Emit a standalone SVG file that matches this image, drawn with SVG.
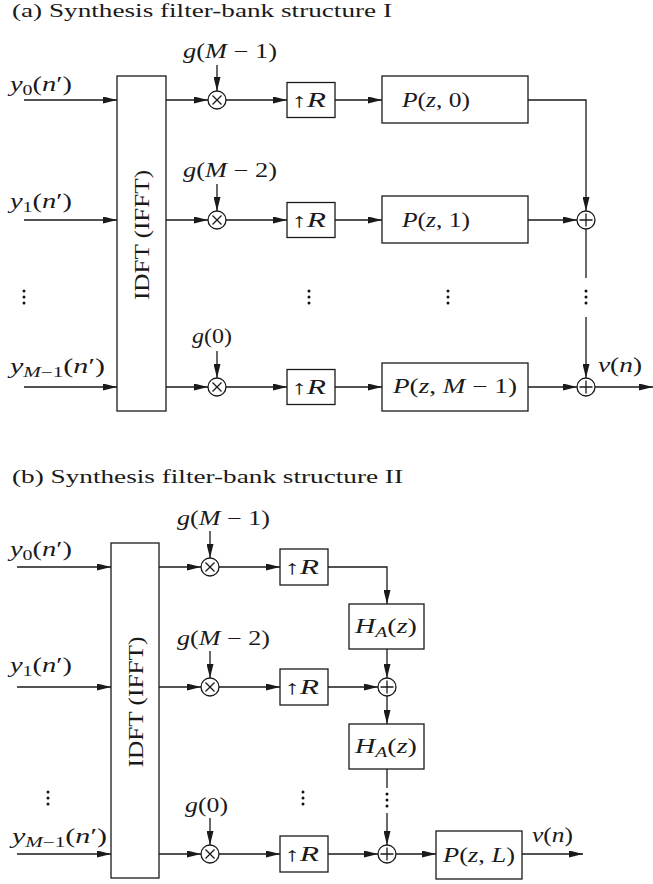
<svg xmlns="http://www.w3.org/2000/svg" width="653" height="884" viewBox="0 0 653 884">
<defs>
<marker id="ah" markerUnits="userSpaceOnUse" markerWidth="14" markerHeight="7" refX="14" refY="3.5" orient="auto">
<path d="M0,0 L14,3.5 L0,7 z" fill="#1a1a1a"/>
</marker>
</defs>
<style>
text{font-family:"Liberation Serif","Times New Roman",serif;font-size:20px;fill:#1a1a1a}
.t{font-size:19px}
.i{font-style:italic}
.s{font-size:14px}
.box{fill:#fff;stroke:#1a1a1a;stroke-width:1.3}
.ln{fill:none;stroke:#1a1a1a;stroke-width:1.3}
.ar{fill:none;stroke:#1a1a1a;stroke-width:1.3;marker-end:url(#ah)}
.op{fill:#fff;stroke:#1a1a1a;stroke-width:1.3}
.dot{fill:#111}
</style>
<rect width="653" height="884" fill="#fff"/>

<!-- ===== (a) ===== -->
<text class="t" x="12" y="17" textLength="380" lengthAdjust="spacingAndGlyphs">(a) Synthesis filter-bank structure I</text>

<g id="connectors-a">
<line class="ar" x1="24" y1="100" x2="117" y2="100"/>
<line class="ar" x1="24" y1="220" x2="117" y2="220"/>
<line class="ar" x1="24" y1="387" x2="117" y2="387"/>
<line class="ar" x1="166" y1="100" x2="208" y2="100"/>
<line class="ar" x1="166" y1="220" x2="208" y2="220"/>
<line class="ar" x1="166" y1="387" x2="208" y2="387"/>
<line class="ar" x1="217" y1="65" x2="217" y2="91"/>
<line class="ar" x1="217" y1="184" x2="217" y2="211"/>
<line class="ar" x1="217" y1="351" x2="217" y2="378"/>
<line class="ar" x1="226" y1="100" x2="287" y2="100"/>
<line class="ar" x1="226" y1="220" x2="287" y2="220"/>
<line class="ar" x1="226" y1="387" x2="287" y2="387"/>
<line class="ar" x1="335" y1="100" x2="382" y2="100"/>
<line class="ar" x1="335" y1="220" x2="382" y2="220"/>
<line class="ar" x1="335" y1="387" x2="382" y2="387"/>
<polyline class="ar" points="528,100 586,100 586,211"/>
<line class="ar" x1="528" y1="220" x2="577" y2="220"/>
<line class="ln" x1="586" y1="229" x2="586" y2="278"/>
<line class="ar" x1="586" y1="317" x2="586" y2="378"/>
<line class="ar" x1="528" y1="387" x2="577" y2="387"/>
<line class="ar" x1="595" y1="387" x2="653" y2="387"/>
</g>

<g id="labels-a">
<text x="10" y="91" textLength="62" lengthAdjust="spacingAndGlyphs"><tspan class="i">y</tspan><tspan class="s" dy="4">0</tspan><tspan dy="-4">(</tspan><tspan class="i">n</tspan>′)</text>
<text x="10" y="208" textLength="62" lengthAdjust="spacingAndGlyphs"><tspan class="i">y</tspan><tspan class="s" dy="4">1</tspan><tspan dy="-4">(</tspan><tspan class="i">n</tspan>′)</text>
<text x="10" y="373" textLength="95" lengthAdjust="spacingAndGlyphs"><tspan class="i">y</tspan><tspan class="s" dy="4"><tspan class="i">M</tspan>−1</tspan><tspan dy="-4">(</tspan><tspan class="i">n</tspan>′)</text>
<text x="183" y="58" textLength="94" lengthAdjust="spacingAndGlyphs"><tspan class="i">g</tspan>(<tspan class="i">M</tspan> − 1)</text>
<text x="183" y="177" textLength="94" lengthAdjust="spacingAndGlyphs"><tspan class="i">g</tspan>(<tspan class="i">M</tspan> − 2)</text>
<text x="192" y="343" textLength="40" lengthAdjust="spacingAndGlyphs"><tspan class="i">g</tspan>(0)</text>
<text x="598" y="372" textLength="44" lengthAdjust="spacingAndGlyphs"><tspan class="i">v</tspan>(<tspan class="i">n</tspan>)</text>
</g>

<g id="idft-a">
<rect class="box" x="117" y="76" width="49" height="335"/>
<text transform="translate(149,235) rotate(-90)" text-anchor="middle" textLength="130" lengthAdjust="spacingAndGlyphs">IDFT (IFFT)</text>
</g>

<g id="mul-a0"><circle class="op" cx="217" cy="100" r="9"/><path class="ln" d="M212.5,95.5 L221.5,104.5 M221.5,95.5 L212.5,104.5"/></g>
<g id="mul-a1"><circle class="op" cx="217" cy="220" r="9"/><path class="ln" d="M212.5,215.5 L221.5,224.5 M221.5,215.5 L212.5,224.5"/></g>
<g id="mul-a2"><circle class="op" cx="217" cy="387" r="9"/><path class="ln" d="M212.5,382.5 L221.5,391.5 M221.5,382.5 L212.5,391.5"/></g>

<g id="up-a0"><rect class="box" x="287" y="82.5" width="48" height="35"/><text x="291" y="107" textLength="35" lengthAdjust="spacingAndGlyphs">↑<tspan class="i">R</tspan></text></g>
<g id="up-a1"><rect class="box" x="287" y="202.5" width="48" height="35"/><text x="291" y="227" textLength="35" lengthAdjust="spacingAndGlyphs">↑<tspan class="i">R</tspan></text></g>
<g id="up-a2"><rect class="box" x="287" y="369.5" width="48" height="35"/><text x="291" y="394" textLength="35" lengthAdjust="spacingAndGlyphs">↑<tspan class="i">R</tspan></text></g>

<g id="p-a0"><rect class="box" x="382" y="76" width="146" height="47"/><text x="402" y="107" textLength="68" lengthAdjust="spacingAndGlyphs"><tspan class="i">P</tspan>(<tspan class="i">z</tspan>, 0)</text></g>
<g id="p-a1"><rect class="box" x="382" y="196" width="146" height="47"/><text x="402" y="227" textLength="68" lengthAdjust="spacingAndGlyphs"><tspan class="i">P</tspan>(<tspan class="i">z</tspan>, 1)</text></g>
<g id="p-a2"><rect class="box" x="382" y="363" width="146" height="48"/><text x="393" y="393" textLength="124" lengthAdjust="spacingAndGlyphs"><tspan class="i">P</tspan>(<tspan class="i">z</tspan>, <tspan class="i">M</tspan> − 1)</text></g>

<g id="add-a1"><circle class="op" cx="586" cy="220" r="9"/><path class="ln" d="M579.5,220 L592.5,220 M586,213.5 L586,226.5"/></g>
<g id="add-a2"><circle class="op" cx="586" cy="387" r="9"/><path class="ln" d="M579.5,387 L592.5,387 M586,380.5 L586,393.5"/></g>

<g id="dots-a">
<circle class="dot" cx="24" cy="291" r="1.5"/><circle class="dot" cx="24" cy="297" r="1.5"/><circle class="dot" cx="24" cy="303" r="1.5"/>
<circle class="dot" cx="309" cy="291" r="1.5"/><circle class="dot" cx="309" cy="297" r="1.5"/><circle class="dot" cx="309" cy="303" r="1.5"/>
<circle class="dot" cx="448" cy="291" r="1.5"/><circle class="dot" cx="448" cy="297" r="1.5"/><circle class="dot" cx="448" cy="303" r="1.5"/>
<circle class="dot" cx="586" cy="291" r="1.5"/><circle class="dot" cx="586" cy="297" r="1.5"/><circle class="dot" cx="586" cy="303" r="1.5"/>
</g>

<!-- ===== (b) ===== -->
<text class="t" x="12" y="483" textLength="391" lengthAdjust="spacingAndGlyphs">(b) Synthesis filter-bank structure II</text>

<g id="connectors-b">
<line class="ar" x1="17" y1="567" x2="111" y2="567"/>
<line class="ar" x1="17" y1="687" x2="111" y2="687"/>
<line class="ar" x1="17" y1="854" x2="111" y2="854"/>
<line class="ar" x1="159" y1="567" x2="201" y2="567"/>
<line class="ar" x1="159" y1="687" x2="201" y2="687"/>
<line class="ar" x1="159" y1="854" x2="201" y2="854"/>
<line class="ar" x1="210" y1="531" x2="210" y2="558"/>
<line class="ar" x1="210" y1="651" x2="210" y2="678"/>
<line class="ar" x1="210" y1="818" x2="210" y2="845"/>
<line class="ar" x1="219" y1="567" x2="280" y2="567"/>
<line class="ar" x1="219" y1="687" x2="280" y2="687"/>
<line class="ar" x1="219" y1="854" x2="280" y2="854"/>
<polyline class="ar" points="328,567 387,567 387,604"/>
<line class="ar" x1="387" y1="649" x2="387" y2="678"/>
<line class="ar" x1="328" y1="687" x2="378" y2="687"/>
<line class="ar" x1="387" y1="696" x2="387" y2="724"/>
<line class="ln" x1="387" y1="769" x2="387" y2="788"/>
<line class="ar" x1="387" y1="813" x2="387" y2="845"/>
<line class="ar" x1="328" y1="854" x2="378" y2="854"/>
<line class="ar" x1="396" y1="854" x2="436" y2="854"/>
<line class="ar" x1="522" y1="854" x2="583" y2="854"/>
</g>

<g id="labels-b">
<text x="10" y="556" textLength="62" lengthAdjust="spacingAndGlyphs"><tspan class="i">y</tspan><tspan class="s" dy="4">0</tspan><tspan dy="-4">(</tspan><tspan class="i">n</tspan>′)</text>
<text x="10" y="672" textLength="62" lengthAdjust="spacingAndGlyphs"><tspan class="i">y</tspan><tspan class="s" dy="4">1</tspan><tspan dy="-4">(</tspan><tspan class="i">n</tspan>′)</text>
<text x="12" y="843" textLength="95" lengthAdjust="spacingAndGlyphs"><tspan class="i">y</tspan><tspan class="s" dy="4"><tspan class="i">M</tspan>−1</tspan><tspan dy="-4">(</tspan><tspan class="i">n</tspan>′)</text>
<text x="177" y="525" textLength="93" lengthAdjust="spacingAndGlyphs"><tspan class="i">g</tspan>(<tspan class="i">M</tspan> − 1)</text>
<text x="177" y="645" textLength="93" lengthAdjust="spacingAndGlyphs"><tspan class="i">g</tspan>(<tspan class="i">M</tspan> − 2)</text>
<text x="185" y="812" textLength="43" lengthAdjust="spacingAndGlyphs"><tspan class="i">g</tspan>(0)</text>
<text x="532" y="842" textLength="41" lengthAdjust="spacingAndGlyphs"><tspan class="i">v</tspan>(<tspan class="i">n</tspan>)</text>
</g>

<g id="idft-b">
<rect class="box" x="111" y="543" width="48" height="335"/>
<text transform="translate(143,702) rotate(-90)" text-anchor="middle" textLength="131" lengthAdjust="spacingAndGlyphs">IDFT (IFFT)</text>
</g>

<g id="mul-b0"><circle class="op" cx="210" cy="567" r="9"/><path class="ln" d="M205.5,562.5 L214.5,571.5 M214.5,562.5 L205.5,571.5"/></g>
<g id="mul-b1"><circle class="op" cx="210" cy="687" r="9"/><path class="ln" d="M205.5,682.5 L214.5,691.5 M214.5,682.5 L205.5,691.5"/></g>
<g id="mul-b2"><circle class="op" cx="210" cy="854" r="9"/><path class="ln" d="M205.5,849.5 L214.5,858.5 M214.5,849.5 L205.5,858.5"/></g>

<g id="up-b0"><rect class="box" x="280" y="549" width="48" height="36"/><text x="284" y="574" textLength="35" lengthAdjust="spacingAndGlyphs">↑<tspan class="i">R</tspan></text></g>
<g id="up-b1"><rect class="box" x="280" y="669" width="48" height="36"/><text x="284" y="694" textLength="35" lengthAdjust="spacingAndGlyphs">↑<tspan class="i">R</tspan></text></g>
<g id="up-b2"><rect class="box" x="280" y="836" width="48" height="36"/><text x="284" y="861" textLength="35" lengthAdjust="spacingAndGlyphs">↑<tspan class="i">R</tspan></text></g>

<g id="ha-b0"><rect class="box" x="349" y="604" width="75" height="45"/><text x="355" y="633" textLength="62" lengthAdjust="spacingAndGlyphs"><tspan class="i">H</tspan><tspan class="s i" dy="4">A</tspan><tspan dy="-4">(</tspan><tspan class="i">z</tspan>)</text></g>
<g id="ha-b1"><rect class="box" x="349" y="724" width="75" height="45"/><text x="355" y="753" textLength="62" lengthAdjust="spacingAndGlyphs"><tspan class="i">H</tspan><tspan class="s i" dy="4">A</tspan><tspan dy="-4">(</tspan><tspan class="i">z</tspan>)</text></g>

<g id="add-b1"><circle class="op" cx="387" cy="687" r="9"/><path class="ln" d="M380.5,687 L393.5,687 M387,680.5 L387,693.5"/></g>
<g id="add-b2"><circle class="op" cx="387" cy="854" r="9"/><path class="ln" d="M380.5,854 L393.5,854 M387,847.5 L387,860.5"/></g>

<g id="p-b"><rect class="box" x="436" y="831" width="86" height="48"/><text x="443" y="862" textLength="72" lengthAdjust="spacingAndGlyphs"><tspan class="i">P</tspan>(<tspan class="i">z</tspan>, <tspan class="i">L</tspan>)</text></g>

<g id="dots-b">
<circle class="dot" cx="48" cy="792" r="1.5"/><circle class="dot" cx="48" cy="798" r="1.5"/><circle class="dot" cx="48" cy="804" r="1.5"/>
<circle class="dot" cx="303" cy="792" r="1.5"/><circle class="dot" cx="303" cy="798" r="1.5"/><circle class="dot" cx="303" cy="804" r="1.5"/>
<circle class="dot" cx="387" cy="794" r="1.5"/><circle class="dot" cx="387" cy="800" r="1.5"/><circle class="dot" cx="387" cy="806" r="1.5"/>
</g>
</svg>
